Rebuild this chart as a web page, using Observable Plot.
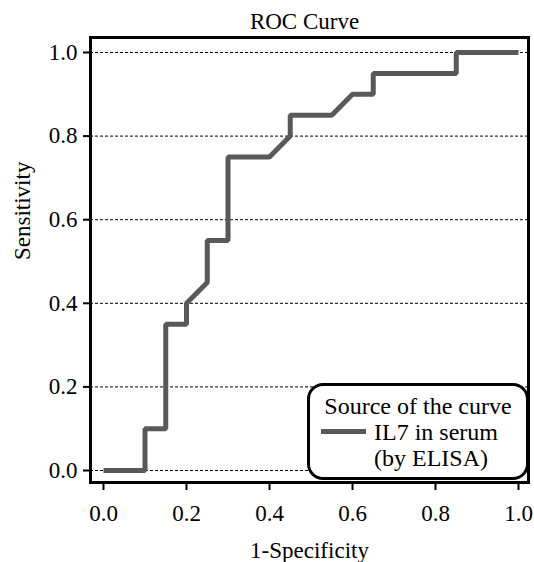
<!DOCTYPE html>
<html><head><meta charset="utf-8">
<script src="https://cdn.jsdelivr.net/npm/d3@7"></script>
<script src="https://cdn.jsdelivr.net/npm/@observablehq/plot@0.6"></script>
</head>
<body style="margin:0;font-size:24px;font-family:'Liberation Serif', serif;background:#fff">
<div id="wrap" style="position:relative;width:534px;height:562px"></div>
<script>
const title = "ROC Curve";
const xLabel = "1-Specificity";
const yLabel = "Sensitivity";
const legendTitle = "Source of the curve";
const seriesName = ["IL7 in serum", "(by ELISA)"];
const ticks = [0, 0.2, 0.4, 0.6, 0.8, 1.0];
const fpr = [0, 0.1, 0.1, 0.15, 0.15, 0.2, 0.2, 0.25, 0.25, 0.3, 0.3, 0.4, 0.45, 0.45, 0.55, 0.6, 0.65, 0.65, 0.85, 0.85, 1.0];
const tpr = [0, 0, 0.1, 0.1, 0.35, 0.35, 0.4, 0.45, 0.55, 0.55, 0.75, 0.75, 0.8, 0.85, 0.85, 0.9, 0.9, 0.95, 0.95, 1.0, 1.0];

const pts = fpr.map((x, i) => ({x, y: tpr[i]}));
const lineColor = "#595959";

const chart = Plot.plot({
  width: 534,
  height: 562,
  marginLeft: 90,
  marginRight: 6,
  marginTop: 37,
  marginBottom: 80,
  style: {fontFamily: "serif", fontSize: "23px", background: "#fff"},
  x: {domain: [0, 1], range: [103, 518]},
  y: {domain: [0, 1], range: [470, 52]},
  marks: [
    Plot.ruleY(ticks, {stroke: "#000", strokeWidth: 1, strokeDasharray: "3,2"}),
    Plot.line(pts, {x: "x", y: "y", stroke: lineColor, strokeWidth: 5, strokeLinejoin: "miter", strokeLinecap: "butt"}),
    Plot.frame({stroke: "#000", strokeWidth: 3}),
    Plot.axisX({ticks, tickFormat: d => d.toFixed(1), tickSize: 8, tickPadding: 14, label: null, stroke: "#000", strokeWidth: 2, fill: "#000", fontSize: 23}),
    Plot.axisY({ticks, tickFormat: d => d.toFixed(1), tickSize: 7, tickPadding: 6, label: null, stroke: "#000", strokeWidth: 2, fill: "#000", fontSize: 23}),
    Plot.text([xLabel], {frameAnchor: "bottom", dy: 68, lineAnchor: "middle", fill: "#000", fontSize: 23}),
    Plot.text([yLabel], {frameAnchor: "left", dx: -68, rotate: -90, lineAnchor: "middle", fill: "#000", fontSize: 23}),
    Plot.text([title], {frameAnchor: "top", dy: -16, dx: -5, lineAnchor: "middle", fill: "#000", fontSize: 23})
  ]
});

const wrap = document.getElementById("wrap");
wrap.appendChild(chart);

const lg = document.createElement("div");
lg.style.cssText = "position:absolute;left:307px;top:383px;width:222px;height:97px;box-sizing:border-box;border:3px solid #000;border-radius:16px;background:#fff;font-size:24px;color:#000;font-family:serif";
function span(text, css) {
  const s = document.createElement("span");
  s.textContent = text;
  s.style.cssText = "position:absolute;white-space:nowrap;line-height:1;" + css;
  lg.appendChild(s);
}
span(legendTitle, "left:0px;width:216px;text-align:center;top:8px");
const sw = document.createElement("div");
sw.style.cssText = "position:absolute;left:11px;width:45px;top:43px;height:5px;background:" + lineColor;
lg.appendChild(sw);
span(seriesName[0], "left:64px;top:34px");
span(seriesName[1], "left:64px;top:60px");
wrap.appendChild(lg);
</script>
</body></html>
